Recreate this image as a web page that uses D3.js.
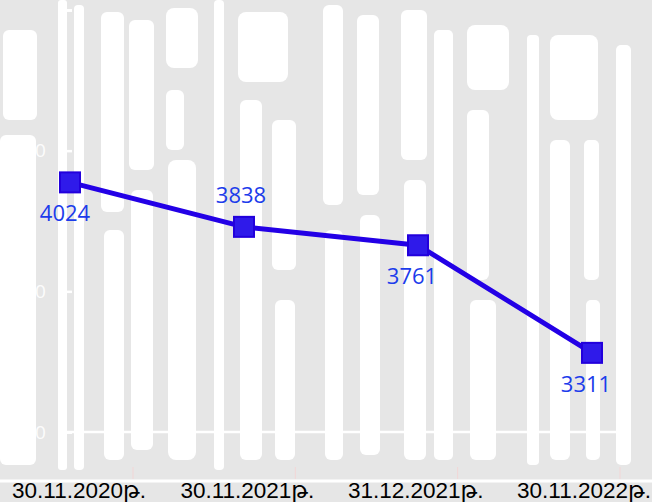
<!DOCTYPE html>
<html>
<head>
<meta charset="utf-8">
<script src="https://cdn.jsdelivr.net/npm/d3@7"></script>
<style>
  html, body { margin: 0; padding: 0; background: #e6e6e6; }
  svg { display: block; }
</style>
</head>
<body>
<svg id="chart" width="652" height="502"></svg>
<script>
// ---- data ----
const categories = ["30.11.2020թ.", "30.11.2021թ.", "31.12.2021թ.", "30.11.2022թ."];
const values = [4024, 3838, 3761, 3311];
const yTickValues = [2000, 2500, 3000, 3500];
const yTickLabels = [2000, 2500, 3000];

// ---- decorative background texture (light calligraphy-like strips) ----
const decor = [
  [3, 30, 34, 90, 6], [0, 135, 36, 330, 6], [58, 0, 9, 470, 3], [74, 5, 10, 465, 4],
  [101, 12, 23, 200, 6], [104, 230, 20, 230, 6], [129, 20, 25, 150, 6], [131, 190, 22, 260, 6],
  [166, 8, 32, 60, 8], [166, 90, 18, 60, 6], [168, 160, 28, 300, 8], [214, 0, 10, 470, 4],
  [238, 12, 50, 70, 8], [240, 100, 22, 360, 6], [272, 120, 24, 150, 6], [275, 300, 20, 160, 6],
  [323, 5, 20, 200, 6], [325, 230, 18, 230, 6], [357, 15, 22, 180, 6], [360, 215, 20, 240, 6],
  [401, 10, 26, 150, 6], [404, 180, 22, 280, 6], [434, 30, 19, 430, 5], [467, 25, 42, 65, 8],
  [467, 110, 22, 170, 6], [470, 300, 26, 160, 6], [527, 35, 12, 430, 4], [550, 35, 48, 85, 8],
  [550, 140, 20, 320, 6], [584, 140, 15, 140, 5], [586, 300, 14, 160, 5], [616, 45, 15, 420, 5]
];

const svg = d3.select("#chart");
const W = 652, H = 502;

svg.append("rect").attr("width", W).attr("height", H).attr("fill", "#e6e6e6");
svg.append("g").selectAll("rect").data(decor).join("rect")
  .attr("x", d => d[0]).attr("y", d => d[1])
  .attr("width", d => d[2]).attr("height", d => d[3])
  .attr("rx", d => d[4]).attr("fill", "#ffffff");

// ---- scales ----
const xPoint = d3.scalePoint().domain(categories).range([70, 592]);
const xLabel = d3.scalePoint().domain(categories).range([79, 584]);
const xTick = d3.scalePoint().domain(categories).range([133, 620]);
const yData = d3.scaleLinear().domain([2980, 4745]).range([432, 10]);
const yAxisScale = d3.scaleLinear().domain([2000, 3500]).range([432, 10]);

// ---- y axis (white) ----
const yAxis = d3.axisRight(yAxisScale).tickValues(yTickValues).tickSize(13).tickFormat("");
const gy = svg.append("g").attr("transform", "translate(59,0)").call(yAxis);
gy.select(".domain").attr("stroke", "#ffffff").attr("stroke-width", 2.5);
gy.selectAll(".tick line").attr("stroke", "#ffffff").attr("stroke-width", 2.5);

svg.append("g").selectAll("text").data(yTickLabels).join("text")
  .attr("x", 46).attr("y", d => yAxisScale(d))
  .attr("dy", "0.35em")
  .attr("text-anchor", "end")
  .attr("font-family", "'Open Sans', sans-serif")
  .attr("font-size", 19)
  .attr("fill", "#ffffff")
  .attr("fill-opacity", 0.9)
  .text(d => d);

// ---- x axis baseline ----
svg.append("line")
  .attr("x1", 59).attr("x2", 631)
  .attr("y1", yAxisScale(2000)).attr("y2", yAxisScale(2000))
  .attr("stroke", "#ffffff").attr("stroke-width", 2.5);

// lower white rule and faint ticks
svg.append("line")
  .attr("x1", 0).attr("x2", W).attr("y1", 481).attr("y2", 481)
  .attr("stroke", "#ffffff").attr("stroke-width", 3);
svg.append("g").selectAll("line").data(categories).join("line")
  .attr("x1", d => xTick(d)).attr("x2", d => xTick(d))
  .attr("y1", 467).attr("y2", 479)
  .attr("stroke", "#f2d6d6").attr("stroke-width", 1);

// x labels
svg.append("g").selectAll("text").data(categories).join("text")
  .attr("x", d => xLabel(d)).attr("y", 498)
  .attr("text-anchor", "middle")
  .attr("font-family", "'Liberation Sans', Arial, 'DejaVu Sans', sans-serif")
  .attr("font-size", 22.5)
  .attr("fill", "#000000")
  .text(d => d);

// ---- line ----
const pts = categories.map((c, i) => ({ c, v: values[i] }));
svg.append("path")
  .datum(pts)
  .attr("fill", "none")
  .attr("stroke", "#2300e6")
  .attr("stroke-width", 5)
  .attr("stroke-linejoin", "round")
  .attr("d", d3.line().x(d => xPoint(d.c)).y(d => yData(d.v)));

// markers
svg.append("g").selectAll("rect").data(pts).join("rect")
  .attr("x", d => xPoint(d.c) - 10).attr("y", d => yData(d.v) - 10)
  .attr("width", 20).attr("height", 20)
  .attr("fill", "#2f1aea")
  .attr("stroke", "#2200dc")
  .attr("stroke-width", 2);

// value labels (3838 above, others below)
const labelAbove = [false, true, false, false];
svg.append("g").selectAll("text").data(pts).join("text")
  .attr("x", (d, i) => xPoint(d.c) + (i === 0 ? -5 : i === 1 ? -3 : -6))
  .attr("y", (d, i) => yData(d.v) + (labelAbove[i] ? -24 : 39))
  .attr("text-anchor", "middle")
  .attr("font-family", "'Open Sans', sans-serif")
  .attr("font-size", 22)
  .attr("fill", "#1c3ceb")
  .text(d => d.v);
</script>
</body>
</html>
